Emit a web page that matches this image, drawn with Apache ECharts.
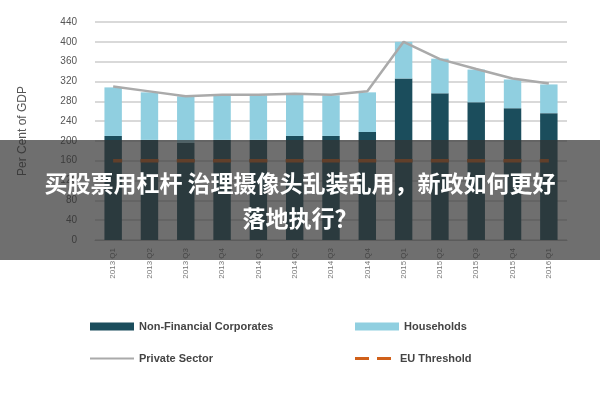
<!DOCTYPE html>
<html><head><meta charset="utf-8">
<script src="https://cdn.jsdelivr.net/npm/echarts@6/dist/echarts.min.js"></script>
<style>body{margin:0}#c{width:600px;height:400px}</style></head>
<body><div id="c"></div>
<script>
const categories=['2013 Q1','2013 Q2','2013 Q3','2013 Q4','2014 Q1','2014 Q2','2014 Q3','2014 Q4','2015 Q1','2015 Q2','2015 Q3','2015 Q4','2016 Q1'];
const nonFinancial=[210,202,196,202,202,210,210,218,326,296,278,266,256];
const households=[98,96,94,90,90,84,82,80,74,70,66,58,58];
const privateSector=[310,300,290,293,293,295,293,300,400,365,345,326,316];
const euThreshold=[160,160,160,160,160,160,160,160,160,160,160,160,160];
const yTicks=[0,440,40];
const chart=echarts.init(document.getElementById('c'));
const ts={fontSize:11,fontWeight:'bold',color:'#444'};
chart.setOption({
 animation:false,
 legend:[
   {data:['Non-Financial Corporates'],left:85,top:316,icon:'rect',itemWidth:44,itemHeight:8,textStyle:ts},
   {data:['Households'],left:350,top:316,icon:'rect',itemWidth:44,itemHeight:8,textStyle:ts},
   {data:['Private Sector'],left:85,top:348,icon:'rect',itemWidth:44,itemHeight:2,textStyle:ts},
   {data:['EU Threshold'],left:350,top:348,icon:'path://M0,0H14V3H0ZM22,0H36V3H22Z',itemWidth:44,itemHeight:3,textStyle:ts}],
 grid:{left:95,right:33,top:22,bottom:160},
 xAxis:{type:'category',data:categories,axisLabel:{rotate:90,fontSize:8,color:'#777'},axisTick:{show:false},axisLine:{lineStyle:{color:'#bbb'}}},
 yAxis:{type:'value',min:yTicks[0],max:yTicks[1],interval:yTicks[2],name:'Per Cent of GDP',nameLocation:'middle',nameGap:66,nameTextStyle:{fontSize:12,color:'#555'},
   axisLabel:{fontSize:10,color:'#555',margin:18},splitLine:{lineStyle:{color:'#ccc',width:1.5}},axisLine:{show:false}},
 series:[
  {name:'Non-Financial Corporates',type:'bar',stack:'a',data:nonFinancial,barWidth:'48%',itemStyle:{color:'#1b4d5c'}},
  {name:'Households',type:'bar',stack:'a',data:households,itemStyle:{color:'#90cfe0'}},
  {name:'Private Sector',type:'line',data:privateSector,symbol:'none',lineStyle:{color:'#aaa',width:2.5},itemStyle:{color:'#aaa'}},
  {name:'EU Threshold',type:'line',data:euThreshold,symbol:'none',lineStyle:{color:'#d0601a',width:3.5,type:[18,18.3],dashOffset:9},itemStyle:{color:'#d0601a'}}
 ],
 graphic:[
  {type:'rect',shape:{x:0,y:140,width:600,height:120},style:{fill:'rgba(50,50,50,0.7)'},z:100},
  {type:'text',x:300,y:183,style:{text:'买股票用杠杆 治理摄像头乱装乱用，新政如何更好',fill:'#fff',font:'bold 23px "Noto Sans CJK SC"',align:'center',verticalAlign:'middle'},z:101},
  {type:'text',x:300,y:218,style:{text:'落地执行？',fill:'#fff',font:'bold 23px "Noto Sans CJK SC"',align:'center',verticalAlign:'middle'},z:101}
 ]
});
</script></body></html>
